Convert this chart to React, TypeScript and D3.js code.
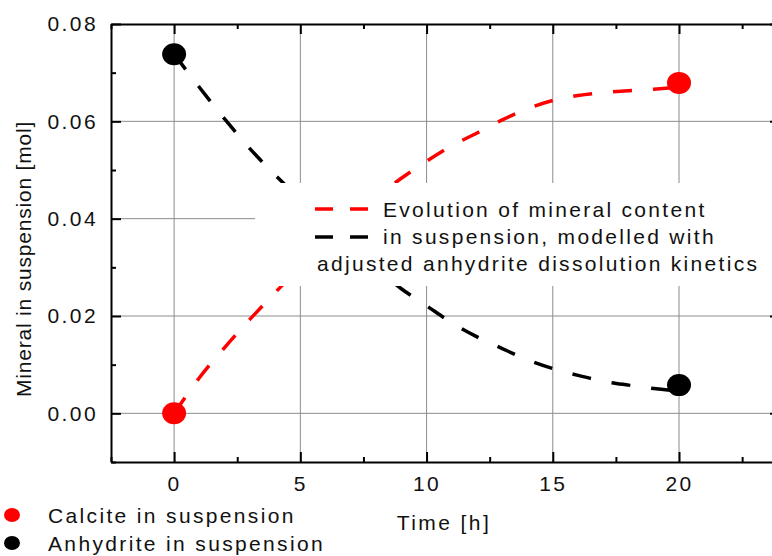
import * as d3 from 'd3'
import React, { useEffect, useRef } from 'react'

const hours = [0, 1, 2, 3, 4, 5, 6, 7, 8, 9, 10, 11, 12, 13, 14, 15, 16, 17, 18, 19, 20]
const calciteModel = [0, 7.3, 13.5, 19.3, 24.8, 30.0, 35.0, 39.8, 44.3, 48.3, 51.8, 55.0, 57.6, 60.3, 62.6, 64.3, 65.3, 65.9, 66.3, 66.6, 67.0]
const anhydriteModel = [73.8, 67.0, 60.5, 54.4, 49.0, 44.0, 39.0, 34.3, 29.8, 25.6, 22.1, 18.6, 15.7, 13.3, 11.0, 9.2, 7.8, 6.6, 5.8, 5.1, 4.6]
const measuredTimes = [0, 20]
const calciteMeasured = [0.0, 0.0679]
const anhydriteMeasured = [0.0738, 0.0058]

const xMajor = [0, 5, 10, 15, 20]
const xMinor = [-2.5, 2.5, 7.5, 12.5, 17.5, 22.5]
const yMajor = [0, 0.02, 0.04, 0.06, 0.08]
const yMinor = [-0.01, 0.01, 0.03, 0.05, 0.07]

const legendLines = [
  'Evolution of mineral content',
  'in suspension, modelled with',
  'adjusted anhydrite dissolution kinetics',
]

const FONT = '"Liberation Sans", Arial, sans-serif'

export default function App() {
  const svgRef = useRef<SVGSVGElement | null>(null)

  useEffect(() => {
    const svg = d3.select(svgRef.current)
    svg.selectAll('*').remove()

    const x = d3.scaleLinear().domain([-2.5, 24]).range([111, 780])
    const y = d3.scaleLinear().domain([-0.01, 0.08]).range([462, 24])

    // grid
    const grid = svg.append('g').attr('stroke', '#8c8c8c').attr('stroke-width', 1)
    grid.selectAll('line.v').data(xMajor).enter().append('line')
      .attr('x1', (d) => x(d)).attr('x2', (d) => x(d)).attr('y1', y(0.08)).attr('y2', y(-0.01))
    grid.selectAll('line.h').data(yMajor.slice(0, 4)).enter().append('line')
      .attr('x1', x(-2.5)).attr('x2', x(24)).attr('y1', (d) => y(d)).attr('y2', (d) => y(d))

    // model curves
    const line = d3.line<number>()
      .x((_, i) => x(hours[i]))
      .y((d) => y(d / 1000))
      .curve(d3.curveMonotoneX)

    const series = [
      { values: calciteModel, color: '#ff0000' },
      { values: anhydriteModel, color: '#000000' },
    ]
    series.forEach((s) => {
      svg.append('path')
        .attr('d', line(s.values))
        .attr('fill', 'none')
        .attr('stroke', s.color)
        .attr('stroke-width', 3.5)
        .attr('stroke-dasharray', '19 21')
    })

    // measured points
    const pts = [
      { values: calciteMeasured, color: '#ff0000' },
      { values: anhydriteMeasured, color: '#000000' },
    ]
    pts.forEach((p) => {
      svg.append('g').selectAll('ellipse').data(p.values).enter().append('ellipse')
        .attr('cx', (_, i) => x(measuredTimes[i]))
        .attr('cy', (d) => y(d))
        .attr('rx', 12)
        .attr('ry', 11)
        .attr('fill', p.color)
    })

    // axes
    const styleAxis = (g: d3.Selection<SVGGElement, unknown, null, undefined>) => {
      g.select('.domain').attr('stroke', '#000').attr('stroke-width', 2)
      g.selectAll('.tick line').attr('stroke', '#000').attr('stroke-width', 2)
      g.selectAll('.tick text')
        .attr('font-family', FONT).attr('font-size', 21).attr('fill', '#111')
        .attr('letter-spacing', 2.4)
    }
    const minor = (g: d3.Selection<SVGGElement, unknown, null, undefined>) => {
      g.select('.domain').remove()
      g.selectAll('.tick line').attr('stroke', '#000').attr('stroke-width', 2)
    }

    svg.append('g').attr('transform', 'translate(0,462)')
      .call(d3.axisBottom(x).tickValues(xMajor).tickSizeInner(-10).tickSizeOuter(0).tickPadding(14).tickFormat(d3.format('d')))
      .call(styleAxis)
    svg.append('g').attr('transform', 'translate(0,462)')
      .call(d3.axisBottom(x).tickValues(xMinor).tickSize(-5).tickFormat(() => ''))
      .call(minor)
    svg.append('g').attr('transform', 'translate(0,24)')
      .call(d3.axisTop(x).tickValues(xMajor).tickSizeInner(-10).tickSizeOuter(0).tickFormat(() => ''))
      .call(styleAxis)
    svg.append('g').attr('transform', 'translate(0,24)')
      .call(d3.axisTop(x).tickValues(xMinor).tickSize(-5).tickFormat(() => ''))
      .call(minor)

    svg.append('g').attr('transform', 'translate(111,0)')
      .call(d3.axisLeft(y).tickValues(yMajor).tickSizeInner(-10).tickSizeOuter(0).tickPadding(13).tickFormat(d3.format('.2f')))
      .call(styleAxis)
    svg.append('g').attr('transform', 'translate(111,0)')
      .call(d3.axisLeft(y).tickValues(yMinor).tickSize(-5).tickFormat(() => ''))
      .call(minor)
    svg.append('g').attr('transform', 'translate(780,0)')
      .call(d3.axisRight(y).tickValues(yMajor).tickSizeInner(-10).tickSizeOuter(0).tickFormat(() => ''))
      .call(styleAxis)

    // legend box inside plot, covering grid, curves and right ticks
    svg.append('rect')
      .attr('x', 255).attr('y', 183).attr('width', 540).attr('height', 103)
      .attr('fill', '#ffffff')

    const legend = svg.append('g').attr('font-family', FONT).attr('font-size', 21).attr('fill', '#111')
    ;['#ff0000', '#000000'].forEach((c, i) => {
      legend.append('line')
        .attr('x1', 315).attr('x2', 368)
        .attr('y1', 209 + i * 28).attr('y2', 209 + i * 28)
        .attr('stroke', c).attr('stroke-width', 3.5)
        .attr('stroke-dasharray', '18 17')
    })
    legend.selectAll('text').data(legendLines).enter().append('text')
      .attr('x', (_, i) => (i < 2 ? 383 : 317))
      .attr('y', (_, i) => 217 + i * 27)
      .attr('letter-spacing', 2.3)
      .text((d) => d)

    // axis titles
    svg.append('text')
      .attr('x', 444).attr('y', 530)
      .attr('text-anchor', 'middle')
      .attr('font-family', FONT).attr('font-size', 21).attr('fill', '#111')
      .attr('letter-spacing', 2.4)
      .text('Time [h]')
    svg.append('text')
      .attr('transform', 'translate(31,259) rotate(-90)')
      .attr('text-anchor', 'middle')
      .attr('font-family', FONT).attr('font-size', 21).attr('fill', '#111')
      .attr('letter-spacing', 0.8)
      .text('Mineral in suspension [mol]')

    // point legend below
    const keys = [
      { label: 'Calcite in suspension', color: '#ff0000' },
      { label: 'Anhydrite in suspension', color: '#000000' },
    ]
    const key = svg.append('g').attr('font-family', FONT).attr('font-size', 21).attr('fill', '#111')
    keys.forEach((k, i) => {
      key.append('ellipse').attr('cx', 12).attr('cy', 515 + i * 28).attr('rx', 8).attr('ry', 7).attr('fill', k.color)
      key.append('text').attr('x', 48).attr('y', 523 + i * 28).attr('letter-spacing', 2.35).text(k.label)
    })
  }, [])

  return (
    <svg
      ref={svgRef}
      width={772}
      height={556}
      style={{ position: 'absolute', left: 0, top: 0, background: '#fff' }}
    ></svg>
  )
}
